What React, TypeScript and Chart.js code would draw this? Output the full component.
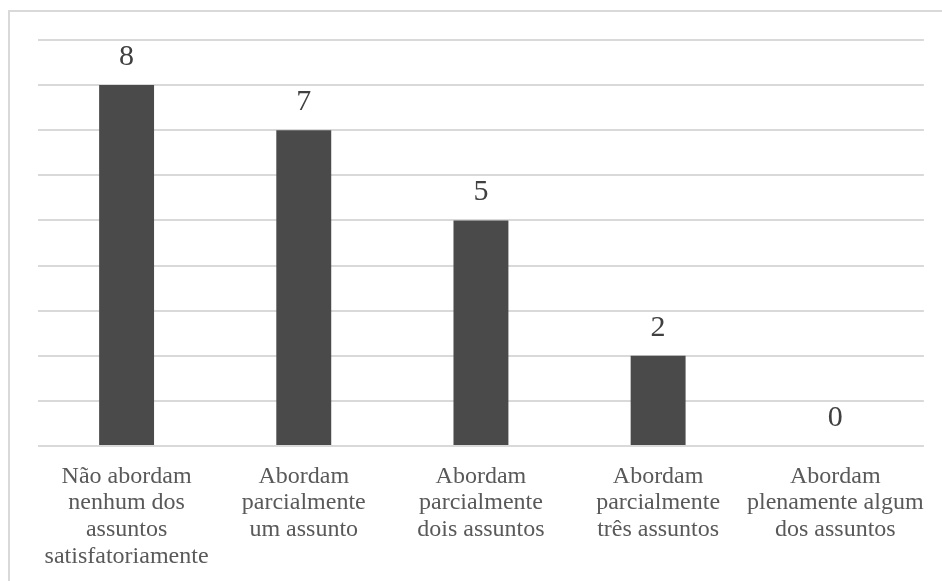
import React, { useEffect, useRef } from "react";
import { Chart, registerables } from "chart.js";

Chart.register(...registerables);

const categories: string[][] = [
  ["Não abordam", "nenhum dos", "assuntos", "satisfatoriamente"],
  ["Abordam", "parcialmente", "um assunto"],
  ["Abordam", "parcialmente", "dois assuntos"],
  ["Abordam", "parcialmente", "três assuntos"],
  ["Abordam", "plenamente algum", "dos assuntos"],
];
const values: number[] = [8, 7, 5, 2, 0];
const yMax = 9;
const yStep = 1;

const FONT = '"Liberation Serif", serif';

const valueLabels = {
  id: "valueLabels",
  afterDatasetsDraw(chart: any) {
    const ctx = chart.ctx;
    const meta = chart.getDatasetMeta(0);
    ctx.save();
    ctx.font = `30px ${FONT}`;
    void ctx.font;
    ctx.fillStyle = "#404040";
    ctx.textAlign = "center";
    ctx.textBaseline = "alphabetic";
    meta.data.forEach((bar: any, i: number) => {
      ctx.fillText(String(values[i]), bar.x, bar.y - 20);
    });
    ctx.restore();
  },
};

export default function App() {
  const ref = useRef<HTMLCanvasElement>(null);
  useEffect(() => {
    const canvas = ref.current;
    if (!canvas) return;
    const ctx: any = canvas.getContext("2d");
    const proto: any = CanvasRenderingContext2D.prototype;
    // read the font back before each text draw so the canvas resolves the serif family
    ctx.fillText = function (text: string, x: number, y: number, maxWidth?: number) {
      const f = this.font;
      this.measureText(f ? "" : "");
      return maxWidth === undefined
        ? proto.fillText.call(this, text, x, y)
        : proto.fillText.call(this, text, x, y, maxWidth);
    };
    const chart = new Chart(canvas, {
      type: "bar",
      data: {
        labels: categories,
        datasets: [
          {
            data: values,
            backgroundColor: "#4a4a4a",
            borderWidth: 0,
            barPercentage: 0.31,
            categoryPercentage: 1,
          },
        ],
      },
      options: {
        animation: false,
        responsive: false,
        maintainAspectRatio: false,
        layout: { padding: { left: 38, right: 14, top: 40, bottom: 0 } },
        plugins: { legend: { display: false }, tooltip: { enabled: false } },
        scales: {
          x: {
            grid: { display: false, drawTicks: false },
            border: { display: false },
            ticks: {
              padding: 17,
              color: "#595959",
              font: { family: FONT, size: 24, lineHeight: 1.11 },
              maxRotation: 0,
              autoSkip: false,
            },
            afterFit: (s: any) => {
              s.height = 135;
            },
          },
          y: {
            min: 0,
            max: yMax,
            ticks: { display: false, stepSize: yStep },
            grid: { color: "#d9d9d9", lineWidth: 2, drawTicks: false },
            border: { display: false },
            afterFit: (s: any) => {
              s.width = 0;
            },
          },
        },
      },
      plugins: [valueLabels],
    });
    let alive = true;
    const redraw = () => {
      if (alive) chart.update();
    };
    const t1 = setTimeout(redraw, 50);
    const t2 = setTimeout(redraw, 250);
    return () => {
      alive = false;
      clearTimeout(t1);
      clearTimeout(t2);
      chart.destroy();
    };
  }, []);
  return (
    <div style={{ position: "fixed", left: 0, top: 0, width: 942, height: 581, overflow: "hidden", background: "#fff" }}>
      <div
        style={{
          position: "absolute",
          left: 8,
          top: 10,
          width: 1200,
          height: 800,
          border: "2px solid #d9d9d9",
          boxSizing: "border-box",
        }}
      />
      <canvas ref={ref} width={942} height={581} style={{ position: "absolute", left: 0, top: 0 }} />
    </div>
  );
}
